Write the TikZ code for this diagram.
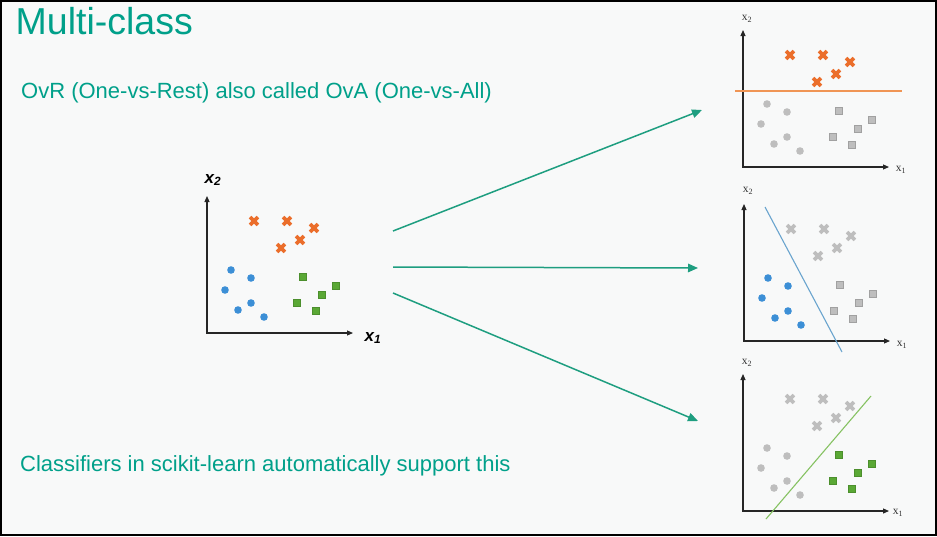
\documentclass[tikz,border=0pt]{standalone}
\usepackage{fontspec}
\setmainfont{Liberation Sans}
\newfontfamily\axisserif{Liberation Serif}
\usetikzlibrary{arrows.meta}

\definecolor{slideteal}{HTML}{00A08A}
\definecolor{arrowteal}{HTML}{1E9E80}
\definecolor{pageback}{HTML}{F8F9F9}
\definecolor{crossorange}{HTML}{EB6E2B}
\definecolor{dotblue}{HTML}{3C8FD6}
\definecolor{boxgreen}{HTML}{5AA835}
\definecolor{fadegrey}{HTML}{BEBEBE}
\definecolor{boundorange}{HTML}{F09555}
\definecolor{boundblue}{HTML}{6AA4CE}
\definecolor{boundgreen}{HTML}{86C262}

\tikzset{
  crossmark/.style={draw=#1, line width=3.6pt},
  dotmark/.style={fill=#1},
  boxmark/.style={fill=#1, draw=#1!85!black, line width=0.4pt},
  axisline/.style={line width=1.1pt, draw=black!85,
    {Triangle[length=6pt,width=5pt]}-{Triangle[length=6pt,width=5pt]}},
  flowarrow/.style={draw=arrowteal, line width=1.5pt,
    -{Triangle[length=10pt,width=8.5pt]}},
  boundary/.style={line width=1.1pt},
  slidetext/.style={text=slideteal, anchor=base west, inner sep=0pt},
  mainlabel/.style={font=\fontsize{17}{17}\selectfont\bfseries\itshape, text=black},
  smalllabel/.style={font=\axisserif\fontsize{11.5}{11.5}\selectfont, text=black!80}
}

% one scatter plot with axes; #1 crosses, #2 dots, #3 squares
\newcommand\ovrscatter[3]{%
  \draw[axisline] (207,196) -- (207,333) -- (353,333);
  \foreach \px/\py in {254/221,287/221,314/228,300/240,281/248}
    \draw[crossmark=#1, shift={(\px,\py)}] (-3.9,-3.9) -- (3.9,3.9) (-3.9,3.9) -- (3.9,-3.9);
  \foreach \px/\py in {231/270,251/278,225/290,251/303,238/310,264/317}
    \fill[dotmark=#2] (\px,\py) circle[radius=3.8];
  \foreach \px/\py in {303/277,336/286,322/295,297/303,316/311}
    \draw[boxmark=#3] (\px,\py) +(-3.6,-3.6) rectangle +(3.6,3.6);
}

\begin{document}
\begin{tikzpicture}[x=1pt,y=-1pt]
  % page
  \fill[pageback] (0,0) rectangle (937,536);
  \useasboundingbox (0,0) rectangle (937,536);

  % texts
  \node[slidetext, font=\fontsize{37.5}{40}\selectfont] (title) at (15.5,34) {Multi-class};
  \node[slidetext, font=\fontsize{22}{26}\selectfont] (ovr) at (21,98) {OvR (One-vs-Rest) also called OvA (One-vs-All)};
  \node[slidetext, font=\fontsize{22}{26}\selectfont] (sklearn) at (20,471) {Classifiers in scikit-learn automatically support this};

  % full data set
  \ovrscatter{crossorange}{dotblue}{boxgreen}
  \node[mainlabel] (mx2) at (213,180) {x\textsubscript{2}};
  \node[mainlabel] (mx1) at (373,338) {x\textsubscript{1}};

  % orange vs rest
  \begin{scope}[shift={(536,-166)}]
    \ovrscatter{crossorange}{fadegrey}{fadegrey}
    \draw[boundary, draw=boundorange] (199,257) -- (366,257);
  \end{scope}
  \node[smalllabel] (ax2) at (747,19) {x\textsubscript{2}};
  \node[smalllabel] (ax1) at (901,170) {x\textsubscript{1}};

  % blue vs rest
  \begin{scope}[shift={(537,8)}]
    \ovrscatter{fadegrey}{dotblue}{fadegrey}
    \draw[boundary, draw=boundblue] (228,199) -- (305,344);
  \end{scope}
  \node[smalllabel] (bx2) at (748,191) {x\textsubscript{2}};
  \node[smalllabel] (bx1) at (902,345) {x\textsubscript{1}};

  % green vs rest
  \begin{scope}[shift={(536,178)}]
    \ovrscatter{fadegrey}{fadegrey}{boxgreen}
    \draw[boundary, draw=boundgreen] (230,341) -- (335,218);
  \end{scope}
  \node[smalllabel] (cx2) at (747,363) {x\textsubscript{2}};
  \node[smalllabel] (cx1) at (898,513) {x\textsubscript{1}};

  % split arrows
  \coordinate (src1) at (393,231);
  \coordinate (src2) at (393,267);
  \coordinate (src3) at (393,293);
  \coordinate (dst1) at (702,110);
  \coordinate (dst2) at (698,268);
  \coordinate (dst3) at (698,421);
  \draw[flowarrow] (src1) -- (dst1);
  \draw[flowarrow] (src2) -- (dst2);
  \draw[flowarrow] (src3) -- (dst3);

  % frame
  \draw[line width=2pt, black] (1,1) rectangle (936,535);
\end{tikzpicture}
\end{document}
